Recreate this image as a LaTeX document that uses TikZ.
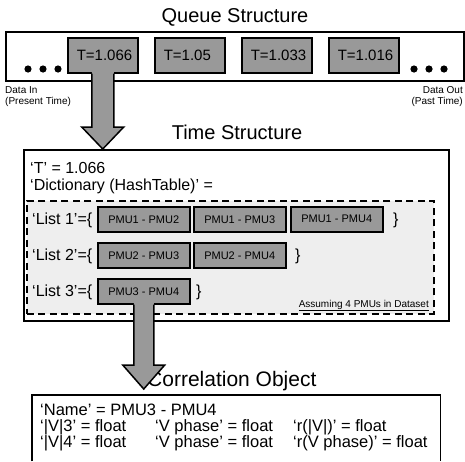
\documentclass[tikz,border=0pt]{standalone}
\usepackage{fontspec}
\setmainfont{Liberation Sans}
\usetikzlibrary{calc}

\definecolor{boxgray}{HTML}{999999}
\definecolor{panelgray}{HTML}{EEEEEE}

% vertical block arrow: #1 start, #2 tip, #3 shaft half-width, #4 head half-width, #5 head length
\newcommand{\blockarrow}[5]{%
  \fill[boxgray] ($(#1)+(-#3,-1.5)$) -- ($(#1 |- #2)+(-#3,-#5)$) -- ($(#1 |- #2)+(-#4,-#5)$)
    -- (#1 |- #2) -- ($(#1 |- #2)+(#4,-#5)$) -- ($(#1 |- #2)+(#3,-#5)$) -- ($(#1)+(#3,-1.5)$) -- cycle;
  \draw[line width=1.5pt, line join=miter] ($(#1)+(-#3,0)$) -- ($(#1 |- #2)+(-#3,-#5)$) -- ($(#1 |- #2)+(-#4,-#5)$)
    -- (#1 |- #2) -- ($(#1 |- #2)+(#4,-#5)$) -- ($(#1 |- #2)+(#3,-#5)$) -- ($(#1)+(#3,0)$);
}

\begin{document}
\begin{tikzpicture}[x=1pt, y=-1pt,
  frame/.style={draw=black, line width=1.6pt, fill=white, inner sep=0pt, anchor=north west},
  panel/.style={draw=black, line width=1.5pt, dash pattern=on 7pt off 4.5pt, fill=panelgray, inner sep=0pt, anchor=north west},
  tbox/.style={draw=black, line width=1.5pt, fill=boxgray, minimum height=35pt, text width=52pt,
    inner xsep=9pt, inner ysep=0pt, align=left, font=\fontsize{15}{18}\selectfont, anchor=north west},
  pbox/.style={draw=black, line width=1.5pt, fill=boxgray, minimum width=92pt, minimum height=25pt,
    inner sep=0pt, font=\fontsize{11}{13}\selectfont, anchor=north west},
  title/.style={inner sep=0pt, font=\fontsize{20}{24}\selectfont},
  txt/.style={inner sep=0pt, font=\fontsize{16}{19}\selectfont},
  row/.style={inner sep=0pt, font=\fontsize{16.5}{19}\selectfont, anchor=base west},
  small/.style={inner sep=0pt, font=\fontsize{10}{11}\selectfont},
  dot/.style={fill=black}
]
\useasboundingbox (0,0) rectangle (465,461);

% ---------- queue ----------
\node[title, anchor=base] (qtitle) at (235,22) {Queue Structure};
\node[frame, minimum width=458pt, minimum height=49pt] (queue) at (5,31) {};
\foreach \x in {28,43,58,414,429,444} \fill[dot] (\x,69) circle (3.6);
\node[tbox] (t1) at (67,37) {T=1.066};
\node[tbox] (t2) at (154,37) {T=1.05};
\node[tbox] (t3) at (241,37) {T=1.033};
\node[tbox] (t4) at (328,37) {T=1.016};
\node[small, anchor=north west, align=left] (din) at (5,86) {Data In\\(Present Time)};
\node[small, anchor=north east, align=right] (dout) at (463,86) {Data Out\\(Past Time)};

% ---------- time structure ----------
\node[title, anchor=base] (ttitle) at (237,139) {Time Structure};
\node[frame, minimum width=425pt, minimum height=171pt] (time) at (23,149) {};
\node[txt, anchor=base west] (tval) at (30,173) {‘T’ = 1.066};
\node[txt, anchor=base west] (dict) at (30,190) {‘Dictionary (HashTable)’ =};
\node[panel, minimum width=407pt, minimum height=113pt] (hash) at (26,200) {};

\node[txt, anchor=base west] (l1) at (32,224.2) {‘List 1’=\{};
\node[pbox] (p12) at (97,206) {PMU1 - PMU2};
\node[pbox] (p13) at (193,206) {PMU1 - PMU3};
\node[pbox] (p14) at (290,206) {PMU1 - PMU4};
\node[txt, anchor=base west] (r1) at (393,224.2) {\}};

\node[txt, anchor=base west] (l2) at (32,260.2) {‘List 2’=\{};
\node[pbox] (p23) at (97,242) {PMU2 - PMU3};
\node[pbox] (p24) at (193,242) {PMU2 - PMU4};
\node[txt, anchor=base west] (r2) at (295,260.2) {\}};

\node[txt, anchor=base west] (l3) at (32,296.2) {‘List 3’=\{};
\node[pbox] (p34) at (97,278) {PMU3 - PMU4};
\node[txt, anchor=base west] (r3) at (196,296.2) {\}};

\node[small, anchor=base east] (note) at (429,307) {\underline{Assuming 4 PMUs in Dataset}};

% ---------- correlation object ----------
\node[inner sep=0pt, minimum width=408pt, minimum height=66pt, anchor=north west] (corr) at (32,395) {};
\draw[line width=1.6pt] (corr.south west) -- (corr.north west) -- (corr.north east) -- (corr.south east);
\node[title, font=\fontsize{21}{25}\selectfont, anchor=base west] (ctitle) at (147,386) {Correlation Object};
\node[row] (cname) at (40,415.5) {‘Name’ = PMU3 - PMU4};
\node[row] (c31) at (40,431.5) {‘|V|3’ = float};
\node[row] (c32) at (155,431.5) {‘V phase’ = float};
\node[row] (c33) at (293,431.5) {‘r(|V|)’ = float};
\node[row] (c41) at (40,447.5) {‘|V|4’ = float};
\node[row] (c42) at (155,447.5) {‘V phase’ = float};
\node[row] (c43) at (293,447.5) {‘r(V phase)’ = float};

% ---------- arrows ----------
\coordinate (tip1) at (t1.south |- time.north);
\blockarrow{t1.south}{tip1}{11}{21}{22}
\coordinate (tip2) at ($(p34.south |- corr.north)+(0,-6)$);
\blockarrow{p34.south}{tip2}{10}{21}{24}
\end{tikzpicture}
\end{document}
